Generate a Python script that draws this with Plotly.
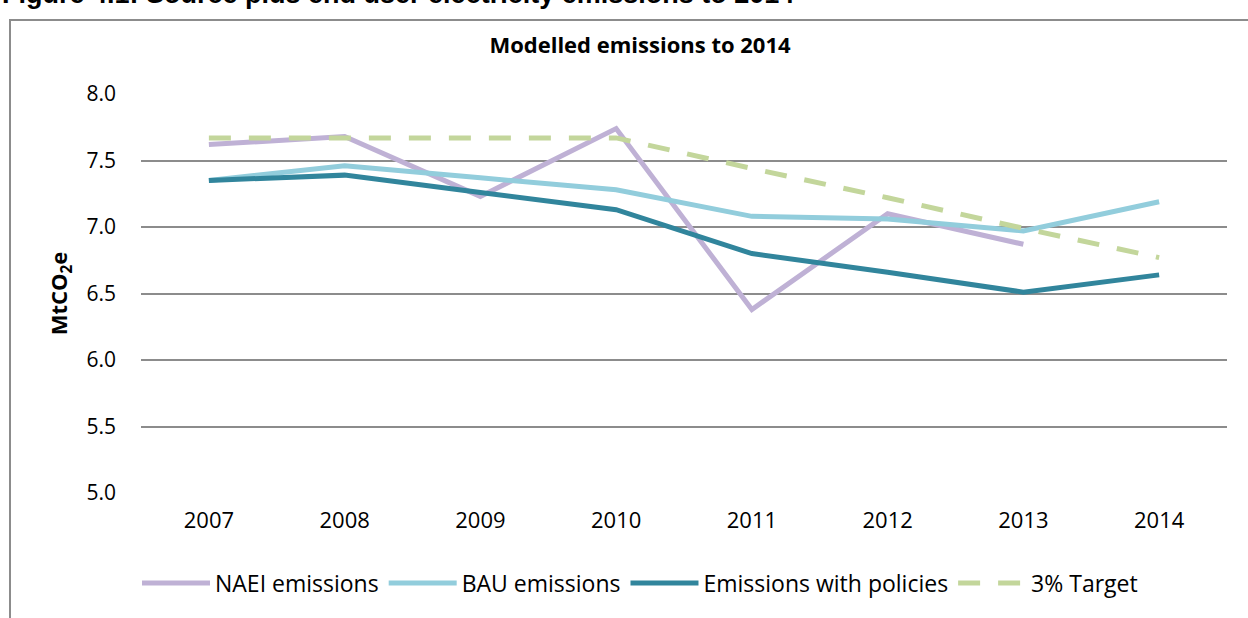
import plotly.graph_objects as go

years = ["2007", "2008", "2009", "2010", "2011", "2012", "2013", "2014"]
naei = [7.62, 7.68, 7.23, 7.74, 6.38, 7.10, 6.87, None]
bau = [7.35, 7.46, 7.37, 7.28, 7.08, 7.06, 6.97, 7.19]
policies = [7.35, 7.39, 7.26, 7.13, 6.80, 6.66, 6.51, 6.64]
target = [7.67, 7.67, 7.67, 7.67, 7.44, 7.22, 6.99, 6.77]

FONT = "'Open Sans', Lato, sans-serif"
L, R, T, B = 141, 1227, 94, 493
W, H = 1248, 618
PW, PH = R - L, B - T

fig = go.Figure()
fig.add_trace(go.Scatter(x=years, y=naei, name="NAEI emissions", mode="lines",
                         line=dict(color="#BFB1D5", width=5)))
fig.add_trace(go.Scatter(x=years, y=bau, name="BAU emissions", mode="lines",
                         line=dict(color="#92CDDC", width=5)))
fig.add_trace(go.Scatter(x=years, y=policies, name="Emissions with policies", mode="lines",
                         line=dict(color="#31859C", width=5)))
fig.add_trace(go.Scatter(x=years, y=target, name="3% Target", mode="lines",
                         line=dict(color="#C3D69B", width=5, dash="22px,18px")))

fig.update_layout(
    width=W, height=H,
    margin=dict(l=L, r=W - R, t=T, b=H - B),
    paper_bgcolor="white", plot_bgcolor="white",
    font=dict(family=FONT, size=21, color="black"),
    title=dict(text="<b>Modelled emissions to 2014</b>", x=640 / W, xanchor="center",
               y=1 - 45 / H, yanchor="middle", font=dict(size=22, family=FONT)),
    xaxis=dict(type="category", range=[-0.5, 7.5], showgrid=False, showline=False, ticks="",
               tickfont=dict(size=22), ticklabelstandoff=12),
    yaxis=dict(range=[5, 8], dtick=0.5, tickformat=".1f", showgrid=True,
               gridcolor="#8C8C8C", gridwidth=1.5, zeroline=False, showline=False,
               ticks="", tickfont=dict(size=21), ticklabelstandoff=24,
               title=dict(text="<b>MtCO<sub>2</sub>e</b>", font=dict(size=22), standoff=12)),
    legend=dict(orientation="h", x=(640 - L) / PW, xanchor="center",
                y=-(583 - B) / PH, yanchor="middle", itemwidth=68,
                font=dict(size=23), traceorder="normal"),
    showlegend=True,
)

fig.add_shape(type="rect", xref="paper", yref="paper",
              x0=(10 - L) / PW, x1=(W + 20 - L) / PW,
              y0=-(H + 20 - B) / PH, y1=1 + (T - 20) / PH,
              line=dict(color="#8C8C8C", width=2), layer="below")

fig.add_annotation(text="<b>Figure 4.1: Source plus end user electricity emissions to 2014</b>",
                   xref="paper", yref="paper", x=(0 - L) / PW, xanchor="left",
                   y=1 + (T + 6) / PH, yanchor="middle", showarrow=False,
                   font=dict(size=27, family="'Liberation Sans', Arial, sans-serif"))

fig.write_html("out.html", config={"displayModeBar": False},
               post_script="document.body.style.margin='0';")
